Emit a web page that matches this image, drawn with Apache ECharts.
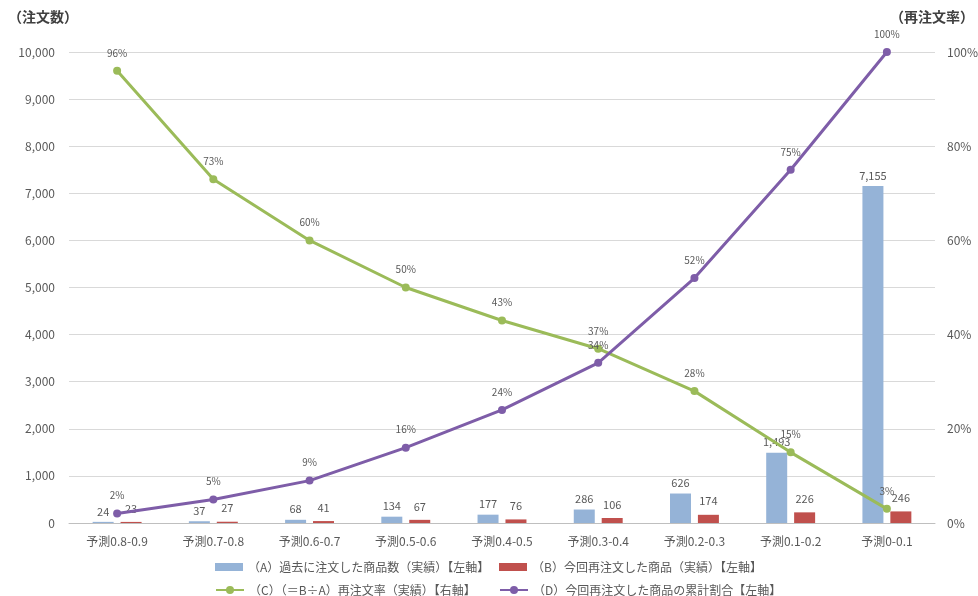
<!DOCTYPE html>
<html>
<head>
<meta charset="utf-8">
<script src="https://cdn.jsdelivr.net/npm/echarts@6/dist/echarts.min.js"></script>
<style>
  html, body { margin: 0; padding: 0; background: #fff; }
  #chart { width: 978px; height: 596px; }
</style>
</head>
<body>
<div id="chart"></div>
<script>
// カテゴリ
const categories = ['予測0.8-0.9', '予測0.7-0.8', '予測0.6-0.7', '予測0.5-0.6', '予測0.4-0.5',
                    '予測0.3-0.4', '予測0.2-0.3', '予測0.1-0.2', '予測0-0.1'];
// (A) 過去に注文した商品数
const pastOrders = [24, 37, 68, 134, 177, 286, 626, 1493, 7155];
// (B) 今回再注文した商品
const reOrders = [23, 27, 41, 67, 76, 106, 174, 226, 246];
// (C) 再注文率 (%)
const reorderRate = [96, 73, 60, 50, 43, 37, 28, 15, 3];
// (D) 累計割合 (%)
const cumulative = [2, 5, 9, 16, 24, 34, 52, 75, 100];

const seriesNames = [
  '（A）過去に注文した商品数（実績）【左軸】',
  '（B）今回再注文した商品（実績）【左軸】',
  '（C）（＝B÷A）再注文率（実績）【右軸】',
  '（D）今回再注文した商品の累計割合【左軸】'
];

const font = '"Noto Sans CJK JP", "Noto Sans", sans-serif';
const gray = '#595959';

let myChart = echarts.init(document.getElementById('chart'));

function legendAt(name, left, top, icon) {
  let lg = {
    data: [name],
    left: left,
    top: top,
    itemWidth: 28,
    itemHeight: icon === 'rect' ? 8 : 10,
    textStyle: { color: gray, fontSize: 12, fontFamily: font }
  };
  if (icon) lg.icon = icon;
  return lg;
}

let option = {
  animation: false,
  textStyle: { fontFamily: font },
  grid: { left: 69, right: 43, top: 52, bottom: 73, outerBoundsMode: 'none', containLabel: false },
  graphic: [
    { type: 'text', left: 8, top: 10, style: { text: '（注文数）', fill: '#404040', font: 'bold 14px ' + font } },
    { type: 'text', right: 4, top: 10, style: { text: '（再注文率）', fill: '#404040', font: 'bold 14px ' + font } }
  ],
  legend: [
    legendAt(seriesNames[0], 210, 556, 'rect'),
    legendAt(seriesNames[1], 494, 556, 'rect'),
    legendAt(seriesNames[2], 210, 579),
    legendAt(seriesNames[3], 494, 579)
  ],
  xAxis: {
    type: 'category',
    data: categories,
    axisTick: { show: false },
    axisLine: { lineStyle: { color: '#BFBFBF' } },
    axisLabel: { color: gray, fontSize: 12, margin: 12 }
  },
  yAxis: [
    {
      type: 'value',
      min: 0, max: 10000, interval: 1000,
      axisLabel: {
        color: gray, fontSize: 12, margin: 14,
        formatter: v => v.toLocaleString('en-US')
      },
      splitLine: { lineStyle: { color: '#D9D9D9' } }
    },
    {
      type: 'value',
      min: 0, max: 100, interval: 20,
      axisLabel: { color: gray, fontSize: 12, margin: 12, formatter: '{value}%' },
      splitLine: { show: false }
    }
  ],
  series: [
    {
      name: seriesNames[0],
      type: 'bar',
      data: pastOrders,
      barWidth: 21,
      barGap: '33%',
      itemStyle: { color: '#95B3D7' },
      label: { show: true, position: 'top', color: gray, fontSize: 11,
               formatter: p => p.value.toLocaleString('en-US') }
    },
    {
      name: seriesNames[1],
      type: 'bar',
      data: reOrders,
      barWidth: 21,
      itemStyle: { color: '#C0504D' },
      label: { show: true, position: 'top', color: gray, fontSize: 11, distance: 8 }
    },
    {
      name: seriesNames[2],
      type: 'line',
      yAxisIndex: 1,
      data: reorderRate,
      symbol: 'circle',
      symbolSize: 8,
      lineStyle: { width: 3, color: '#9BBB59' },
      itemStyle: { color: '#9BBB59' },
      label: { show: true, position: 'top', color: gray, fontSize: 10, distance: 9, formatter: '{c}%' }
    },
    {
      name: seriesNames[3],
      type: 'line',
      yAxisIndex: 1,
      data: cumulative,
      symbol: 'circle',
      symbolSize: 8,
      lineStyle: { width: 3, color: '#7E5DA8' },
      itemStyle: { color: '#7E5DA8' },
      label: { show: true, position: 'top', color: gray, fontSize: 10, distance: 9, formatter: '{c}%' }
    }
  ]
};

myChart.setOption(option);
window.onresize = function () {
  myChart.resize();
};
</script>
</body>
</html>
